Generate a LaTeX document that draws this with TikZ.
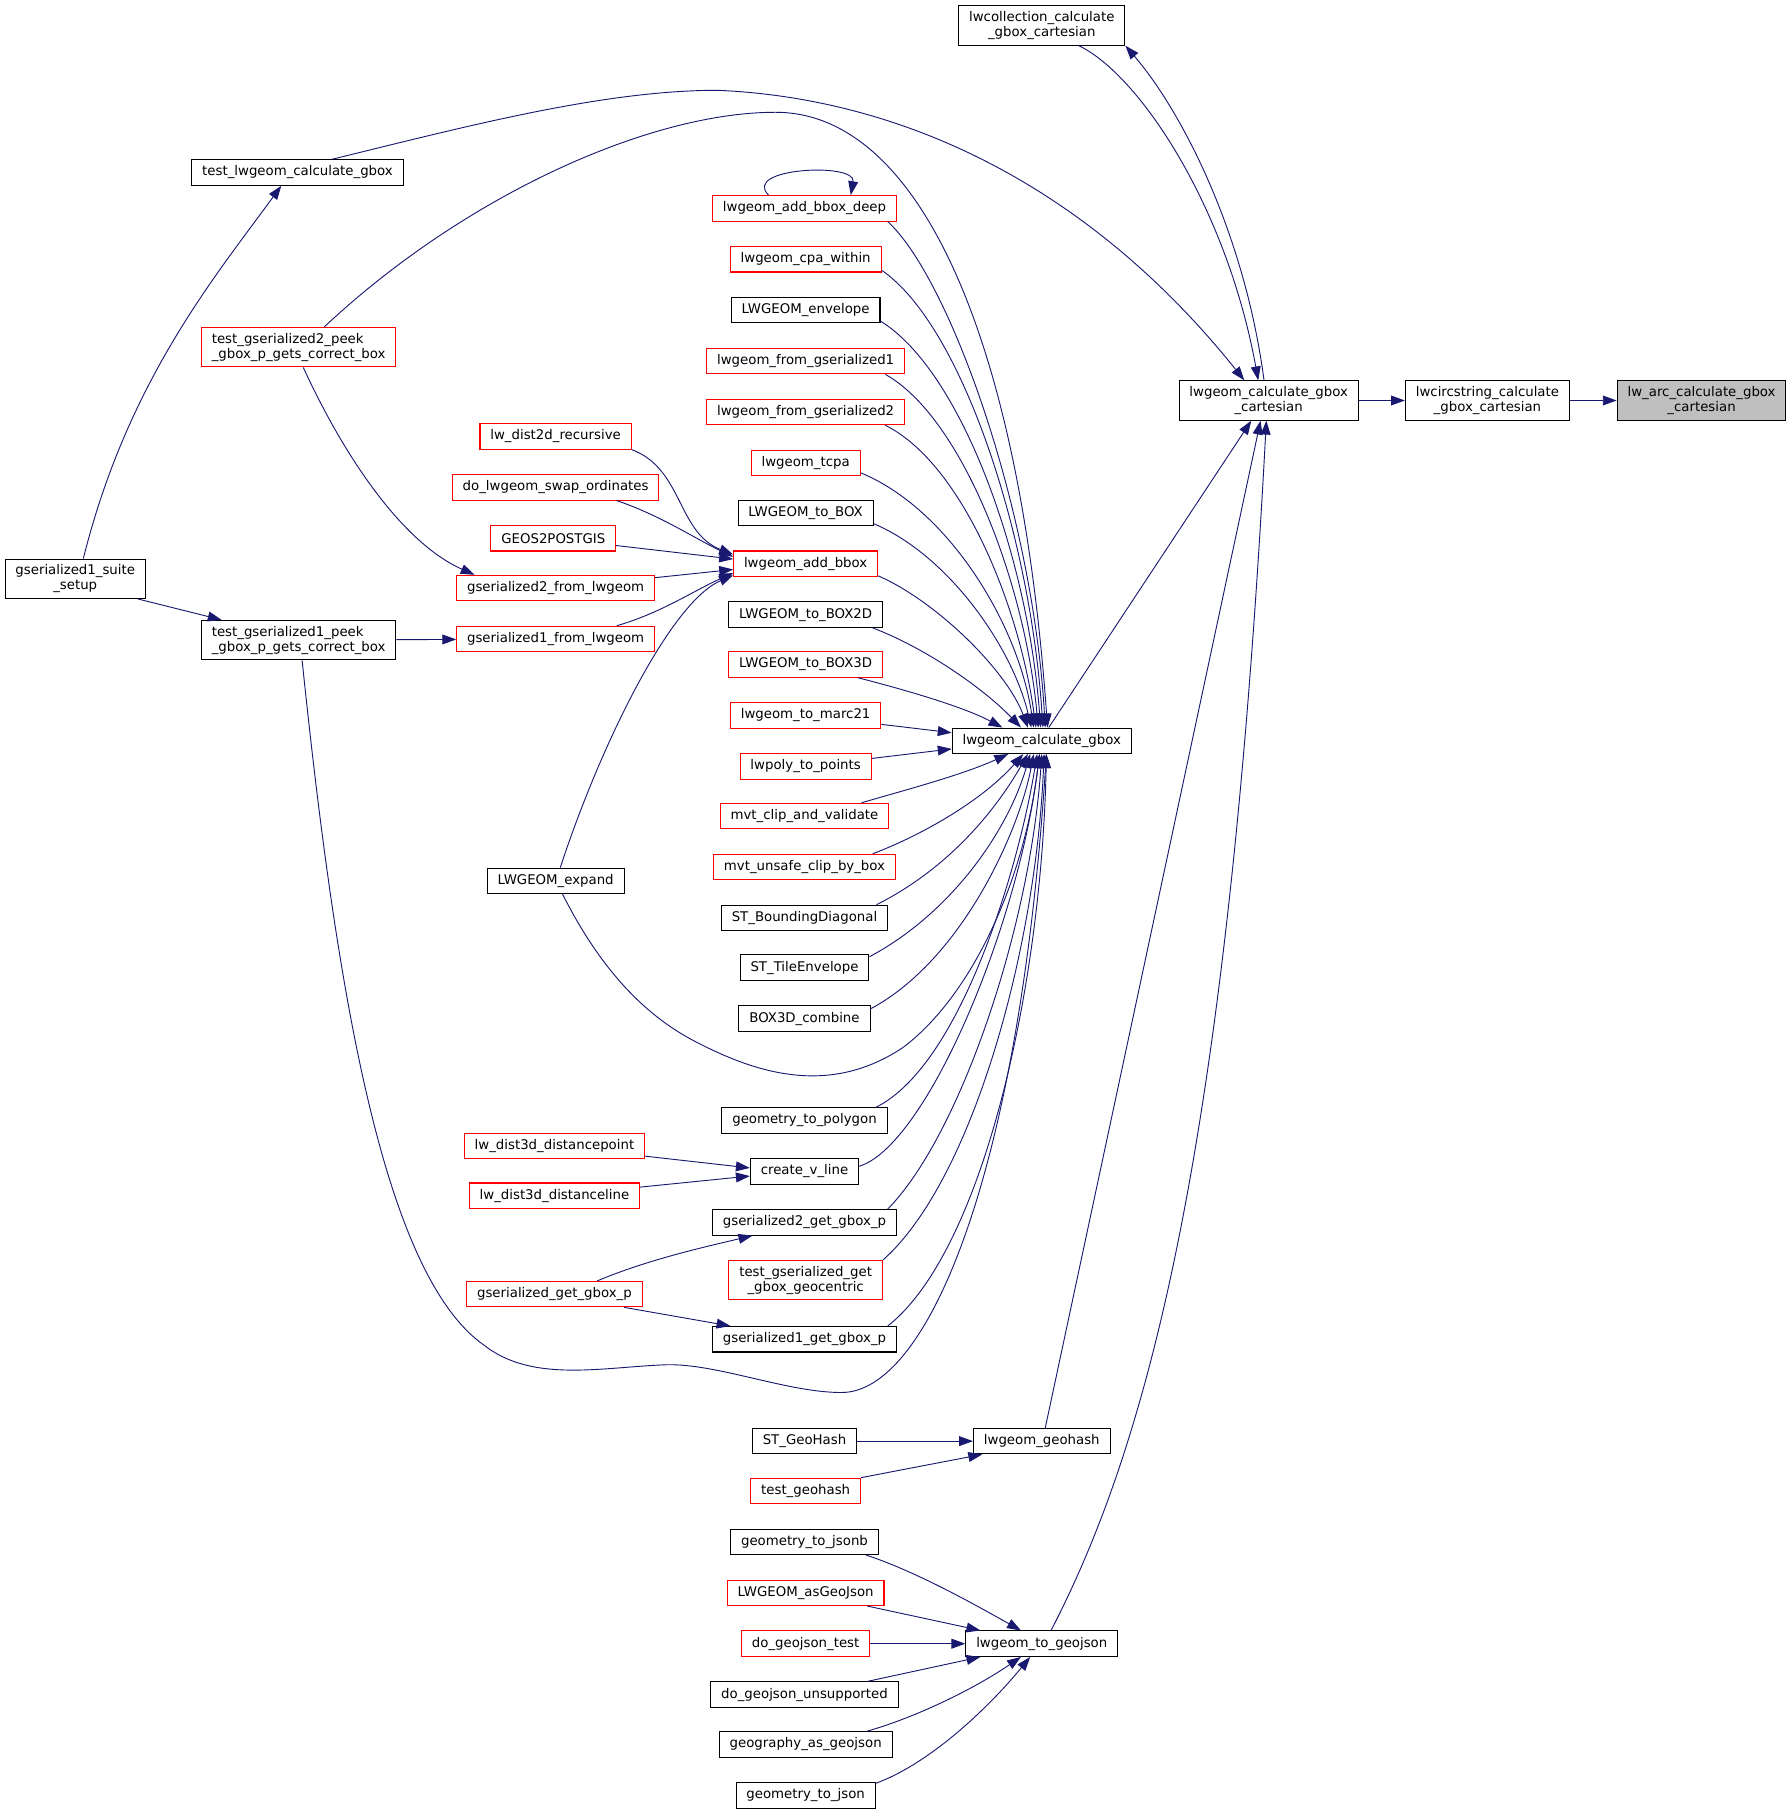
\documentclass[tikz,border=0pt]{standalone}
\usepackage{fontspec}
\setmainfont{DejaVu Sans}
\usetikzlibrary{arrows.meta}
\definecolor{edgeblue}{RGB}{25,25,112}
\definecolor{boxgray}{RGB}{191,191,191}
\begin{document}
\begin{tikzpicture}[x=1pt,y=-1pt,
  box/.style={draw, fill=white, line width=0.9pt, inner xsep=9pt, inner ysep=0pt, minimum height=22pt, font=\fontsize{11.5}{13}\selectfont},
  redbox/.style={box, draw=red},
  twoline/.style={minimum height=34pt, align=center},
  edge/.style={draw=edgeblue, line width=0.8pt, -{Triangle[length=12pt,width=8.5pt]}}]
\useasboundingbox (0,0) rectangle (1548,1568);
\node [box, fill=boxgray, twoline] (arc) at (1470,346) {lw\_arc\_calculate\_gbox\\\_cartesian};
\node [box, twoline] (circ) at (1285,346) {lwcircstring\_calculate\\\_gbox\_cartesian};
\node [box, twoline] (cart) at (1096,346) {lwgeom\_calculate\_gbox\\\_cartesian};
\node [box, twoline] (coll) at (900,22) {lwcollection\_calculate\\\_gbox\_cartesian};
\node [box] (calc) at (900,640) {lwgeom\_calculate\_gbox};
\node [box] (geohash) at (900,1245) {lwgeom\_geohash};
\node [box] (togeojson) at (900,1420) {lwgeom\_to\_geojson};
\node [box] (tlcg) at (257,149) {test\_lwgeom\_calculate\_gbox};
\node [redbox, twoline, align=left] (tgs2peek) at (258,300) {test\_gserialized2\_peek\\\_gbox\_p\_gets\_correct\_box};
\node [box, twoline] (suite) at (65,500) {gserialized1\_suite\\\_setup};
\node [box, twoline, align=left] (tgs1peek) at (258,553) {test\_gserialized1\_peek\\\_gbox\_p\_gets\_correct\_box};
\node [redbox] (dist2d) at (480,377) {lw\_dist2d\_recursive};
\node [redbox] (swapord) at (480,421) {do\_lwgeom\_swap\_ordinates};
\node [redbox] (geos) at (478,465) {GEOS2POSTGIS};
\node [redbox] (gs2from) at (480,508) {gserialized2\_from\_lwgeom};
\node [redbox] (gs1from) at (480,552) {gserialized1\_from\_lwgeom};
\node [box] (expand) at (480,761) {LWGEOM\_expand};
\node [redbox] (dist3dpt) at (479,990) {lw\_dist3d\_distancepoint};
\node [redbox] (dist3dln) at (479,1033) {lw\_dist3d\_distanceline};
\node [redbox] (gsget) at (479,1118) {gserialized\_get\_gbox\_p};
\node [redbox] (deep) at (695,180) {lwgeom\_add\_bbox\_deep};
\node [redbox] (cpa) at (696,224) {lwgeom\_cpa\_within};
\node [box] (envelope) at (696,268) {LWGEOM\_envelope};
\node [redbox] (fromgs1) at (696,312) {lwgeom\_from\_gserialized1};
\node [redbox] (fromgs2) at (696,356) {lwgeom\_from\_gserialized2};
\node [redbox] (tcpa) at (696,400) {lwgeom\_tcpa};
\node [box] (tobox) at (696,443) {LWGEOM\_to\_BOX};
\node [redbox] (addbbox) at (696,487) {lwgeom\_add\_bbox};
\node [box] (tobox2d) at (696,531) {LWGEOM\_to\_BOX2D};
\node [redbox] (tobox3d) at (696,574) {LWGEOM\_to\_BOX3D};
\node [redbox] (marc) at (696,618) {lwgeom\_to\_marc21};
\node [redbox] (polypts) at (696,662) {lwpoly\_to\_points};
\node [redbox] (mvtclip) at (695,705) {mvt\_clip\_and\_validate};
\node [redbox] (mvtunsafe) at (695,749) {mvt\_unsafe\_clip\_by\_box};
\node [box] (bdiag) at (695,793) {ST\_BoundingDiagonal};
\node [box] (tileenv) at (695,836) {ST\_TileEnvelope};
\node [box] (boxcomb) at (695,880) {BOX3D\_combine};
\node [box] (geompoly) at (695,968) {geometry\_to\_polygon};
\node [box] (vline) at (695,1012) {create\_v\_line};
\node [box] (gs2get) at (695,1056) {gserialized2\_get\_gbox\_p};
\node [redbox, twoline] (geocentric) at (696,1106) {test\_gserialized\_get\\\_gbox\_geocentric};
\node [box] (gs1get) at (695,1157) {gserialized1\_get\_gbox\_p};
\node [box] (sthash) at (695,1245) {ST\_GeoHash};
\node [redbox] (testhash) at (696,1288) {test\_geohash};
\node [box] (jsonb) at (695,1332) {geometry\_to\_jsonb};
\node [redbox] (asgeojson) at (696,1376) {LWGEOM\_asGeoJson};
\node [redbox] (gjtest) at (696,1420) {do\_geojson\_test};
\node [box] (gjunsup) at (695,1464) {do\_geojson\_unsupported};
\node [box] (geogjson) at (696,1507) {geography\_as\_geojson};
\node [box] (geomjson) at (696,1551) {geometry\_to\_json};
\draw [edge] (circ) -- (arc);
\draw [edge] (cart) -- (circ);
\draw [edge] ([xshift=32pt]coll.south) .. controls (985,65) and (1060,180) .. ([xshift=-9pt]cart.north);
\draw [edge] ([xshift=-4pt]cart.north) .. controls (1075,200) and (1020,95) .. (coll.south east);
\draw [edge] ([xshift=30pt]tlcg.north) .. controls (400,110) and (520,78) .. (620,78) .. controls (780,85) and (940,160) .. ([xshift=-21pt]cart.north);
\draw [edge] ([xshift=6pt]calc.north) -- ([xshift=-15pt]cart.south);
\draw [edge] ([xshift=3pt]geohash.north) -- ([xshift=-7pt]cart.south);
\draw [edge] ([xshift=8pt]togeojson.north) .. controls (990,1250) and (1060,1000) .. ([xshift=-2pt]cart.south);
\draw [edge] ([xshift=7pt]suite.north) .. controls (110,330) and (185,240) .. ([xshift=-14pt]tlcg.south);
\draw [edge] ([xshift=-7pt]suite.south east) -- ([xshift=18pt]tgs1peek.north west);
\draw [edge] ([xshift=4pt]tgs2peek.south) .. controls (300,400) and (350,470) .. ([xshift=-70pt]gs2from.north);
\draw [edge] ([xshift=22pt]tgs2peek.north) .. controls (400,170) and (560,97) .. (670,97) .. controls (790,97) and (880,280) .. ([xshift=5pt]calc.north);
\draw [edge] (tgs1peek) -- (gs1from);
\draw [edge] ([xshift=3pt]tgs1peek.south) .. controls (290,850) and (330,1100) .. (418,1162) .. controls (460,1195) and (520,1181) .. (576,1179) .. controls (620,1178) and (680,1203) .. (727,1203) .. controls (800,1203) and (880,1020) .. ([xshift=4pt]calc.south);
\draw [edge] (dist2d.south east) .. controls (590,405) and (585,460) .. ([yshift=8pt]addbbox.west);
\draw [edge] ([xshift=-37pt]swapord.south east) .. controls (570,445) and (600,465) .. ([yshift=6pt]addbbox.west);
\draw [edge] (geos) -- ([yshift=4pt]addbbox.west);
\draw [edge] (gs2from) -- ([yshift=-5pt]addbbox.west);
\draw [edge] ([xshift=-33pt]gs1from.north east) .. controls (570,530) and (600,510) .. ([yshift=-8pt]addbbox.west);
\draw [edge] ([xshift=4pt]expand.north) .. controls (520,640) and (580,520) .. ([yshift=-10pt]addbbox.west);
\draw [edge] ([xshift=6pt]expand.south) .. controls (520,840) and (560,880) .. (605,902) .. controls (660,930) and (720,945) .. (780,905) .. controls (840,860) and (885,760) .. ([xshift=-2pt]calc.south);
\draw [edge] ([xshift=-31pt]deep.north) .. controls (640,145) and (740,140) .. ([xshift=40pt]deep.north);
\draw [edge] ([xshift=-8pt]deep.south east) .. controls (820,240) and (892,440) .. ([xshift=3pt]calc.north);
\draw [edge] ([yshift=2pt]cpa.south east) .. controls (830,280) and (890,460) .. ([xshift=1pt]calc.north);
\draw [edge] ([yshift=2pt]envelope.south east) .. controls (830,320) and (888,480) .. ([xshift=-1pt]calc.north);
\draw [edge] ([xshift=-17pt]fromgs1.south east) .. controls (830,360) and (885,500) .. ([xshift=-3pt]calc.north);
\draw [edge] ([xshift=-17pt]fromgs2.south east) .. controls (830,400) and (880,520) .. ([xshift=-5pt]calc.north);
\draw [edge] ([yshift=3pt]tcpa.south east) .. controls (820,440) and (880,540) .. ([xshift=-7pt]calc.north);
\draw [edge] ([yshift=2pt]tobox.south east) .. controls (820,480) and (875,560) .. ([xshift=-9pt]calc.north);
\draw [edge] ([yshift=1pt]addbbox.south east) .. controls (810,520) and (870,580) .. ([xshift=-12pt]calc.north);
\draw [edge] ([xshift=-9pt]tobox2d.south east) .. controls (800,560) and (850,595) .. ([xshift=-18pt]calc.north);
\draw [edge] ([xshift=-22pt]tobox3d.south east) .. controls (790,598) and (835,612) .. ([xshift=-34pt]calc.north);
\draw [edge] (marc) -- ([yshift=7pt]calc.west);
\draw [edge] (polypts) -- ([yshift=-7pt]calc.west);
\draw [edge] ([xshift=-24pt]mvtclip.north east) .. controls (780,683) and (830,670) .. ([xshift=-29pt]calc.south);
\draw [edge] ([xshift=-20pt]mvtunsafe.north east) .. controls (800,720) and (850,690) .. ([xshift=-16pt]calc.south);
\draw [edge] ([xshift=-10pt]bdiag.north east) .. controls (820,750) and (860,700) .. ([xshift=-12pt]calc.south);
\draw [edge] ([yshift=-2pt]tileenv.north east) .. controls (820,790) and (870,720) .. ([xshift=-10pt]calc.south);
\draw [edge] ([yshift=-3pt]boxcomb.north east) .. controls (830,830) and (880,720) .. ([xshift=-7pt]calc.south);
\draw [edge] ([xshift=-10pt]geompoly.north east) .. controls (830,920) and (880,750) .. ([xshift=-4pt]calc.south);
\draw [edge] ([yshift=-7pt]vline.north east) .. controls (800,990) and (880,800) .. ([xshift=-2pt]calc.south);
\draw [edge] ([xshift=-8pt]gs2get.north east) .. controls (830,980) and (890,800) .. (calc.south);
\draw [edge] (geocentric.north east) .. controls (840,1020) and (895,820) .. ([xshift=2pt]calc.south);
\draw [edge] ([xshift=-8pt]gs1get.north east) .. controls (850,1080) and (900,850) .. ([xshift=4pt]calc.south);
\draw [edge] (dist3dpt) -- ([yshift=3pt]vline.west);
\draw [edge] (dist3dln) -- ([yshift=-4pt]vline.west);
\draw [edge] ([xshift=37pt]gsget.north) .. controls (560,1088) and (610,1077) .. ([xshift=-45pt]gs2get.south);
\draw [edge] ([xshift=-16pt]gsget.south east) -- ([xshift=16pt]gs1get.north west);
\draw [edge] (sthash) -- (geohash);
\draw [edge] (testhash.north east) -- ([xshift=8pt]geohash.south west);
\draw [edge] ([xshift=-11pt]jsonb.south east) .. controls (790,1357) and (840,1385) .. ([xshift=-18pt]togeojson.north);
\draw [edge] ([xshift=-15pt]asgeojson.south east) -- ([xshift=13pt]togeojson.north west);
\draw [edge] (gjtest) -- (togeojson);
\draw [edge] ([xshift=-27pt]gjunsup.north east) -- ([xshift=13pt]togeojson.south west);
\draw [edge] ([xshift=-22pt]geogjson.north east) .. controls (790,1484) and (840,1460) .. ([xshift=-18pt]togeojson.south);
\draw [edge] ([yshift=-1pt]geomjson.north east) .. controls (800,1525) and (850,1480) .. ([xshift=-10pt]togeojson.south);
\end{tikzpicture}
\end{document}
